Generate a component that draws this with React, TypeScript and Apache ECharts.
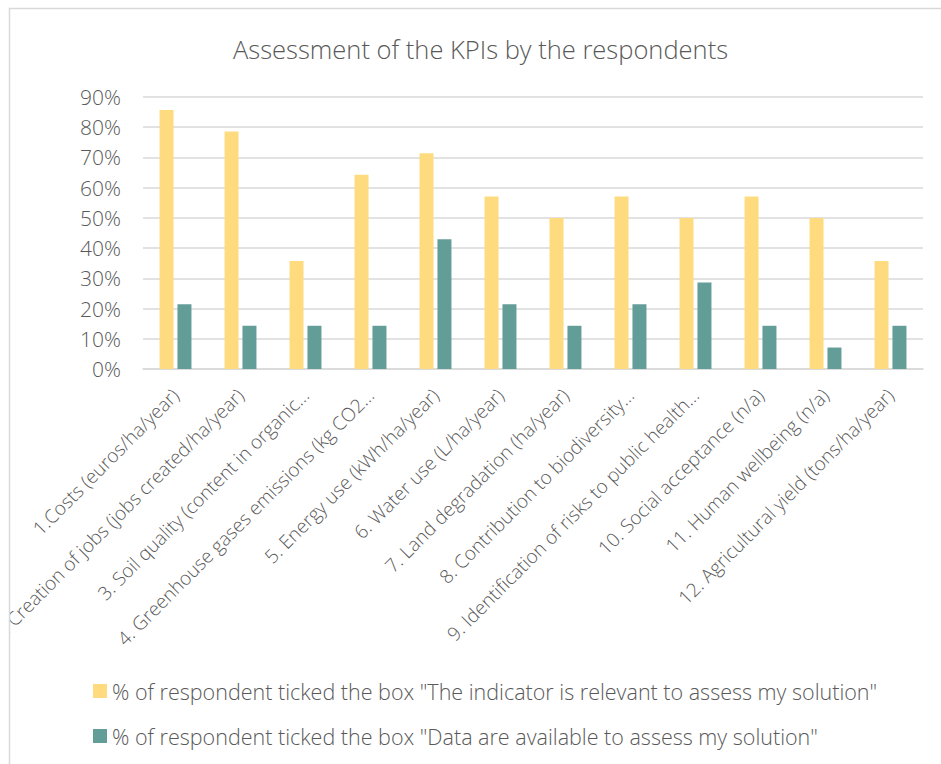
import React, { useEffect, useRef } from "react";
import * as echarts from "echarts";

const categories = [
  "1.Costs (euros/ha/year)",
  "2. Creation of jobs (jobs created/ha/year)",
  "3. Soil quality (content in organic…",
  "4. Greenhouse gases emissions (kg CO2…",
  "5. Energy use (kWh/ha/year)",
  "6. Water use (L/ha/year)",
  "7. Land degradation (ha/year)",
  "8. Contribution to biodiversity…",
  "9. Identification of risks to public health…",
  "10. Social acceptance (n/a)",
  "11. Human wellbeing (n/a)",
  "12. Agricultural yield (tons/ha/year)",
];

const relevantValues = [85.7, 78.6, 35.7, 64.3, 71.4, 57.1, 50.0, 57.1, 50.0, 57.1, 50.0, 35.7];
const availableValues = [21.4, 14.3, 14.3, 14.3, 42.9, 21.4, 14.3, 21.4, 28.6, 14.3, 7.1, 14.3];

const seriesNames = [
  '% of respondent ticked the box "The indicator is relevant to assess my solution"',
  '% of respondent ticked the box "Data are available to assess my solution"',
];

const FONT = "Open Sans";
const TEXT = "#595959";

export default function App() {
  const ref = useRef<HTMLDivElement>(null);
  useEffect(() => {
    if (!ref.current) return;
    const chart = echarts.init(ref.current, undefined, { renderer: "svg" });
    chart.setOption({
      animation: false,
      backgroundColor: "#ffffff",
      title: {
        text: "Assessment of the KPIs by the respondents",
        left: 228,
        top: 31,
        textStyle: { fontFamily: FONT, fontWeight: 300, fontSize: 25.5, color: TEXT },
      },
      graphic: [
        {
          type: "rect",
          z: 100,
          shape: { x: 0, y: 0, width: 9, height: 764 },
          style: { fill: "#ffffff" },
          silent: true,
        },
        {
          type: "rect",
          z: 101,
          shape: { x: 9.5, y: 8.5, width: 1200, height: 1200 },
          style: { fill: "none", stroke: "#d9d9d9", lineWidth: 1.5 },
          silent: true,
        },
      ],
      legend: {
        orient: "vertical",
        left: 93,
        top: 680,
        padding: 0,
        itemWidth: 14,
        itemHeight: 14,
        itemGap: 23,
        icon: "rect",
        textStyle: { fontFamily: FONT, fontWeight: 300, fontSize: 21.5, color: TEXT },
        data: seriesNames,
      },
      grid: {
        left: 143,
        right: 18,
        top: 97,
        bottom: 395,
        containLabel: false,
        outerBoundsMode: "none",
      },
      xAxis: {
        type: "category",
        data: categories,
        axisLine: { show: true, lineStyle: { color: "#d9d9d9", width: 1.5 } },
        axisTick: { show: false },
        axisLabel: {
          interval: 0,
          rotate: 45,
          margin: 23,
          fontFamily: FONT,
          fontWeight: 300,
          fontSize: 19,
          color: TEXT,
        },
      },
      yAxis: {
        type: "value",
        min: 0,
        max: 90,
        interval: 10,
        axisLine: { show: false },
        axisTick: { show: false },
        axisLabel: {
          formatter: "{value}%",
          fontFamily: FONT,
          fontWeight: 300,
          fontSize: 21,
          color: TEXT,
          margin: 22,
        },
        splitLine: { lineStyle: { color: "#d9d9d9", width: 1.5 } },
      },
      series: [
        {
          name: seriesNames[0],
          type: "bar",
          data: relevantValues,
          barWidth: 14,
          barGap: "28%",
          itemStyle: { color: "#FFDB80" },
        },
        {
          name: seriesNames[1],
          type: "bar",
          data: availableValues,
          barWidth: 14,
          barGap: "28%",
          itemStyle: { color: "#639D98" },
        },
      ],
    });
    return () => chart.dispose();
  }, []);
  return (
    <div style={{ position: "fixed", left: 0, top: 0, width: 941, height: 764, overflow: "hidden" }}>
      <div ref={ref} style={{ width: 941, height: 764 }} />
    </div>
  );
}
